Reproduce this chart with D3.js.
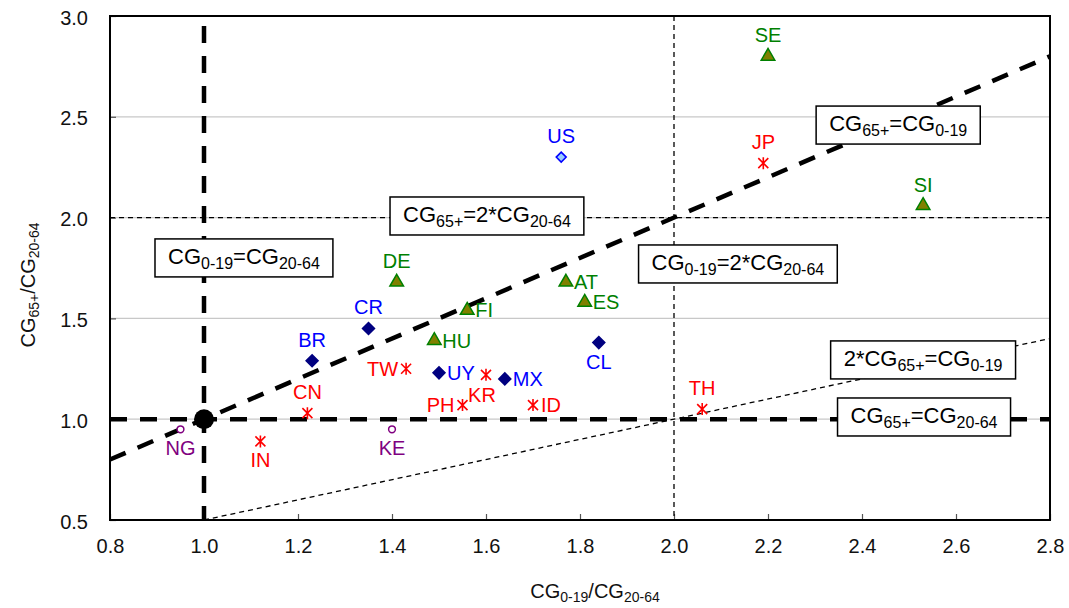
<!DOCTYPE html>
<html><head><meta charset="utf-8">
<script src="https://cdn.jsdelivr.net/npm/d3@7"></script>
<style>
body{margin:0;background:#fff;}
svg{font-family:"Liberation Sans",Arial,sans-serif;}
</style></head>
<body><svg id="c" width="1069" height="608"></svg>
<script>
// ---- data ----
const countries = ["SE","JP","SI","US","DE","AT","ES","FI","HU","CR","BR","CL","UY","MX","TW","KR","PH","ID","CN","IN","TH","NG","KE"];
const ratioYoung = [2.20,2.19,2.53,1.76,1.41,1.77,1.81,1.56,1.49,1.35,1.23,1.84,1.50,1.64,1.43,1.60,1.55,1.70,1.22,1.12,2.06,0.95,1.40];
const ratioOld   = [2.80,2.27,2.06,2.30,1.68,1.68,1.58,1.54,1.39,1.45,1.29,1.38,1.23,1.20,1.25,1.22,1.07,1.07,1.03,0.89,1.05,0.95,0.95];
const groups     = ["tri","ast","tri","open","tri","tri","tri","tri","tri","dia","dia","dia","dia","dia","ast","ast","ast","ast","ast","ast","ast","circ","circ"];
const labelSide  = ["t","t","t","t","t","r","r","r","r","t","t","b","r","r","l","br","l","r","t","b","t","b","b"];
const xTicks = [0.8,1.0,1.2,1.4,1.6,1.8,2.0,2.2,2.4,2.6,2.8];
const yTicks = [0.5,1.0,1.5,2.0,2.5,3.0];
// annotation boxes: text segments [text, isSubscript], anchor in data units
const boxTexts = [
  [["CG",0],["0-19",1],["=CG",0],["20-64",1]],
  [["CG",0],["65+",1],["=2*CG",0],["20-64",1]],
  [["CG",0],["0-19",1],["=2*CG",0],["20-64",1]],
  [["CG",0],["65+",1],["=CG",0],["0-19",1]],
  [["2*CG",0],["65+",1],["=CG",0],["0-19",1]],
  [["CG",0],["65+",1],["=CG",0],["20-64",1]]
];
const boxX = [1.085,1.602,2.136,2.477,2.530,2.532];
const boxY = [1.80,2.008,1.770,2.459,1.294,1.011];

// ---- layout ----
const svg = d3.select("#c");
const L=110,R=1050,T=16,B=520;
const x = d3.scaleLinear().domain([0.8,2.8]).range([L,R]);
const y = d3.scaleLinear().domain([0.5,3.0]).range([B,T]);

const colors = {
  tri:{fill:"#808000",stroke:"#008000",label:"#008000"},
  dia:{fill:"#000080",stroke:"#000080",label:"#0000FF"},
  open:{fill:"#99CCFF",stroke:"#0000FF",label:"#0000FF"},
  ast:{fill:"none",stroke:"#FF0000",label:"#FF0000"},
  circ:{fill:"#fff",stroke:"#800080",label:"#800080"}
};

// grid
svg.append("g").selectAll("line").data([1.0,1.5,2.0,2.5]).join("line")
  .attr("x1",L).attr("x2",R).attr("y1",d=>y(d)).attr("y2",d=>y(d))
  .attr("stroke","#c8c8c8").attr("stroke-width",1.2);

// axes
const xa = svg.append("g").attr("transform",`translate(0,${B})`)
  .call(d3.axisBottom(x).tickValues(xTicks).tickFormat(d3.format(".1f")).tickSizeInner(-6).tickSizeOuter(0).tickPadding(19));
const ya = svg.append("g").attr("transform",`translate(${L},0)`)
  .call(d3.axisLeft(y).tickValues(yTicks).tickFormat(d3.format(".1f")).tickSizeInner(-6).tickSizeOuter(0).tickPadding(22));
[xa,ya].forEach(g=>{
  g.select(".domain").remove();
  g.selectAll(".tick line").attr("stroke","#555").attr("stroke-width",1.2);
  g.selectAll("text").attr("font-size",20).attr("fill","#111").attr("font-family","Liberation Sans, Arial, sans-serif");
});
ya.selectAll("text").attr("dy","0.4em");

// reference lines
const lineG = svg.append("g");
function seg(x1,y1,x2,y2,w,dash){
  lineG.append("line").attr("x1",x(x1)).attr("y1",y(y1)).attr("x2",x(x2)).attr("y2",y(y2))
    .attr("stroke","#000").attr("stroke-width",w).attr("stroke-dasharray",dash);
}
seg(2.0,3.0,2.0,0.5,1.3,"5,4");
seg(0.8,2.0,2.8,2.0,1.3,"5,4");
seg(1.0,0.5,2.8,1.4,1.3,"5,4");
seg(1.0,2.95,1.0,0.5,4.5,"17,13");
seg(0.8,1.0,2.8,1.0,4.5,"17,13");
seg(0.8,0.8,2.8,2.8,4.5,"17,13");

// frame
svg.append("rect").attr("x",L).attr("y",T).attr("width",R-L).attr("height",B-T)
  .attr("fill","none").attr("stroke","#000").attr("stroke-width",2);

// big dot
svg.append("circle").attr("cx",x(1.0)).attr("cy",y(1.0)).attr("r",10).attr("fill","#000");

// annotation boxes
function richText(sel,segs,big,small,shift){
  segs.forEach(([t,sub],i)=>{
    const prev = i>0 ? segs[i-1][1] : 0;
    let dy = 0;
    if(sub && !prev) dy = shift;
    if(!sub && prev) dy = -shift;
    sel.append("tspan").text(t).attr("font-size",sub?small:big).attr("dy",dy);
  });
}
boxTexts.forEach((segs,i)=>{
  const g = svg.append("g");
  const rect = g.append("rect");
  const t = g.append("text").attr("x",x(boxX[i])).attr("y",y(boxY[i])+6)
    .attr("text-anchor","middle").attr("fill","#000");
  richText(t,segs,22,16,5);
  const bb = t.node().getBBox();
  const w = bb.width+26, h = 38;
  rect.attr("x",x(boxX[i])-w/2).attr("y",y(boxY[i])-h/2).attr("width",w).attr("height",h)
    .attr("fill","#fff").attr("stroke","#000").attr("stroke-width",1.5);
});

// markers
const sym = {
  tri: d3.symbol().type(d3.symbolTriangle).size(80)(),
  dia: "M0,-6L6,0L0,6L-6,0Z",
  open: "M0,-5L5,0L0,5L-5,0Z",
  ast: "M-5,-5L5,5M-5,5L5,-5M0,-6L0,6",
  circ: d3.symbol().type(d3.symbolCircle).size(36)()
};
const pts = countries.map((c,i)=>({c,x:ratioYoung[i],y:ratioOld[i],g:groups[i],s:labelSide[i]}));
const mg = svg.append("g");
mg.selectAll("path").data(pts).join("path")
  .attr("transform",d=>`translate(${x(d.x)},${y(d.y)})`)
  .attr("d",d=>sym[d.g])
  .attr("fill",d=>colors[d.g].fill).attr("stroke",d=>colors[d.g].stroke)
  .attr("stroke-width",d=>d.g==="ast"?1.6:1.5);

const off = {t:[0,-14,"middle"],b:[0,26,"middle"],l:[-8,7,"end"],r:[8,7,"start"],br:[-4,27,"middle"]};
mg.selectAll("text").data(pts).join("text")
  .attr("x",d=>x(d.x)+off[d.s][0]).attr("y",d=>y(d.y)+off[d.s][1])
  .attr("text-anchor",d=>off[d.s][2])
  .attr("font-size",20).attr("fill",d=>colors[d.g].label).text(d=>d.c);

// axis titles
const xt = svg.append("text").attr("x",595).attr("y",598).attr("text-anchor","middle").attr("fill","#111");
richText(xt,[["CG",0],["0-19",1],["/CG",0],["20-64",1]],20,14,4);
const yt = svg.append("text").attr("transform","translate(35,285) rotate(-90)").attr("text-anchor","middle").attr("fill","#111");
richText(yt,[["CG",0],["65+",1],["/CG",0],["20-64",1]],20,14,4);
</script></body></html>
